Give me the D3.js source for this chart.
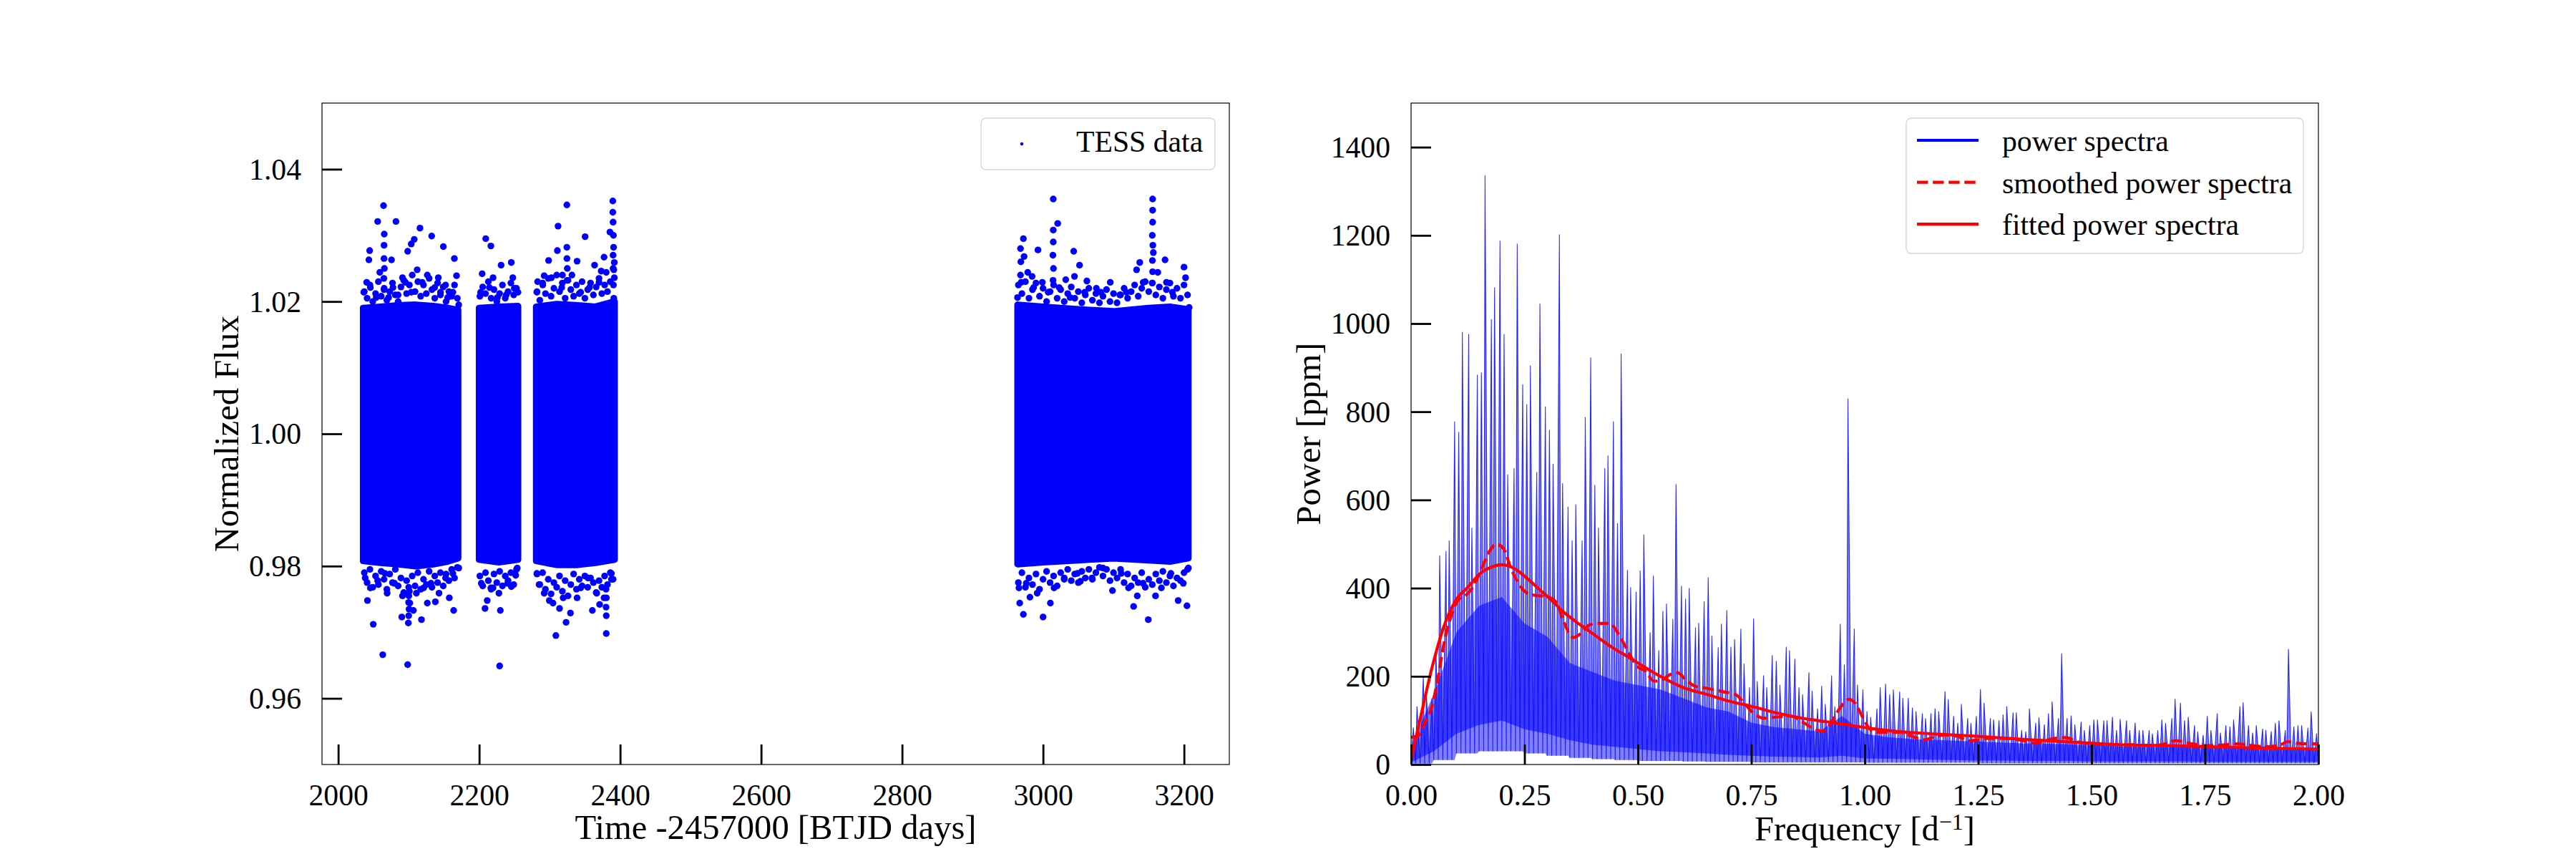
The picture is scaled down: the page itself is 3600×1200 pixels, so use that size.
<!DOCTYPE html>
<html><head><meta charset="utf-8">
<script src="https://cdn.jsdelivr.net/npm/d3@7"></script>
<style>
body{margin:0;background:#fff}
svg{display:block}
text{font-family:"Liberation Serif","Times New Roman",serif;fill:#000}
</style>
</head><body>
<svg id="c" width="3600" height="1200"></svg>
<script>
// ---------------- DATA ----------------
// Light curve axes
const timeDomain = [1977, 3264.3];
const fluxDomain = [0.95, 1.05];
const timeTicks = [2000, 2200, 2400, 2600, 2800, 3000, 3200];
const fluxTicks = [0.96, 0.98, 1.00, 1.02, 1.04];

// dense core of each observing segment: [time, upper flux, lower flux]
const coreA = [[2035.5,1.0190,0.9808],[2060,1.0192,0.9805],[2085,1.0194,0.9803],[2110,1.0195,0.9800],[2135,1.0193,0.9803],[2155,1.0190,0.9807],[2170,1.0187,0.9812]];
const coreB = [[2200,1.0190,0.9810],[2228,1.0192,0.9806],[2255,1.0193,0.9810]];
const coreC = [[2281,1.0192,0.9808],[2310,1.0196,0.9802],[2340,1.0194,0.9802],[2365,1.0192,0.9805],[2392,1.0200,0.9810]];
const coreD = [[2964,1.0195,0.9803],[3000,1.0192,0.9806],[3050,1.0188,0.9809],[3100,1.0185,0.9812],[3150,1.0190,0.9809],[3180,1.0192,0.9807],[3206,1.0188,0.9812]];

// ragged edge points just outside the dense core: [time, flux]
const edgeA = [[2037,1.0215],[2041,1.0205],[2045,1.0225],[2049,1.0200],[2053,1.0212],[2057,1.0230],[2061,1.0208],[2065,1.0218],[2069,1.0202],[2073,1.0215],[2077,1.0228],[2081,1.0210],[2085,1.0200],[2089,1.0222],[2093,1.0232],[2097,1.0212],[2101,1.0225],[2105,1.0240],[2109,1.0215],[2113,1.0230],[2117,1.0208],[2121,1.0225],[2125,1.0212],[2129,1.0235],[2133,1.0218],[2137,1.0205],[2141,1.0228],[2145,1.0210],[2149,1.0222],[2153,1.0200],[2157,1.0215],[2161,1.0208],[2165,1.0225],[2169,1.0205],
 [2037,0.9790],[2041,0.9775],[2045,0.9795],[2049,0.9768],[2053,0.9785],[2057,0.9772],[2061,0.9792],[2065,0.9780],[2069,0.9765],[2073,0.9788],[2077,0.9775],[2081,0.9795],[2085,0.9770],[2089,0.9782],[2093,0.9760],[2097,0.9778],[2101,0.9762],[2105,0.9785],[2109,0.9770],[2113,0.9790],[2117,0.9765],[2121,0.9780],[2125,0.9772],[2129,0.9792],[2133,0.9768],[2137,0.9785],[2141,0.9775],[2145,0.9790],[2149,0.9770],[2153,0.9788],[2157,0.9778],[2161,0.9795],[2165,0.9782],[2169,0.9798]];
const edgeB = [[2201,1.0208],[2205,1.0222],[2209,1.0212],[2213,1.0230],[2217,1.0205],[2221,1.0218],[2225,1.0200],[2229,1.0212],[2233,1.0225],[2237,1.0205],[2241,1.0215],[2245,1.0228],[2249,1.0210],[2253,1.0220],
 [2201,0.9785],[2205,0.9770],[2209,0.9790],[2213,0.9778],[2217,0.9765],[2221,0.9788],[2225,0.9775],[2229,0.9792],[2233,0.9770],[2237,0.9785],[2241,0.9778],[2245,0.9790],[2249,0.9772],[2253,0.9795]];
const edgeC = [[2282,1.0215],[2286,1.0202],[2290,1.0228],[2294,1.0212],[2298,1.0235],[2302,1.0208],[2306,1.0220],[2310,1.0240],[2314,1.0215],[2318,1.0228],[2322,1.0205],[2326,1.0232],[2330,1.0218],[2334,1.0208],[2338,1.0225],[2342,1.0212],[2346,1.0230],[2350,1.0205],[2354,1.0218],[2358,1.0228],[2362,1.0210],[2366,1.0222],[2370,1.0235],[2374,1.0212],[2378,1.0225],[2382,1.0215],[2386,1.0230],[2390,1.0250],
 [2282,0.9788],[2286,0.9772],[2290,0.9790],[2294,0.9765],[2298,0.9780],[2302,0.9758],[2306,0.9775],[2310,0.9768],[2314,0.9785],[2318,0.9762],[2322,0.9778],[2326,0.9755],[2330,0.9772],[2334,0.9788],[2338,0.9765],[2342,0.9780],[2346,0.9770],[2350,0.9785],[2354,0.9768],[2358,0.9782],[2362,0.9775],[2366,0.9760],[2370,0.9778],[2374,0.9768],[2378,0.9785],[2382,0.9772],[2386,0.9790],[2390,0.9780]];
const edgeD = [[2965,1.0225],[2970,1.0212],[2975,1.0230],[2980,1.0205],[2985,1.0218],[2990,1.0228],[2995,1.0208],[3000,1.0220],[3005,1.0200],[3010,1.0215],[3015,1.0225],[3020,1.0205],[3025,1.0218],[3030,1.0200],[3035,1.0212],[3040,1.0222],[3045,1.0205],[3050,1.0215],[3055,1.0198],[3060,1.0210],[3065,1.0220],[3070,1.0202],[3075,1.0212],[3080,1.0198],[3085,1.0208],[3090,1.0218],[3095,1.0200],[3100,1.0212],[3105,1.0198],[3110,1.0210],[3115,1.0220],[3120,1.0205],[3125,1.0215],[3130,1.0225],[3135,1.0208],[3140,1.0220],[3145,1.0230],[3150,1.0215],[3155,1.0228],[3160,1.0210],[3165,1.0222],[3170,1.0205],[3175,1.0218],[3180,1.0228],[3185,1.0208],[3190,1.0220],[3195,1.0205],[3200,1.0225],[3205,1.0210],
 [2965,0.9775],[2970,0.9790],[2975,0.9768],[2980,0.9782],[2985,0.9772],[2990,0.9788],[2995,0.9765],[3000,0.9780],[3005,0.9792],[3010,0.9775],[3015,0.9785],[3020,0.9770],[3025,0.9790],[3030,0.9780],[3035,0.9795],[3040,0.9778],[3045,0.9788],[3050,0.9775],[3055,0.9792],[3060,0.9782],[3065,0.9795],[3070,0.9780],[3075,0.9790],[3080,0.9798],[3085,0.9785],[3090,0.9795],[3095,0.9778],[3100,0.9790],[3105,0.9782],[3110,0.9795],[3115,0.9775],[3120,0.9788],[3125,0.9770],[3130,0.9782],[3135,0.9775],[3140,0.9790],[3145,0.9768],[3150,0.9780],[3155,0.9772],[3160,0.9788],[3165,0.9778],[3170,0.9792],[3175,0.9775],[3180,0.9785],[3185,0.9770],[3190,0.9782],[3195,0.9778],[3200,0.9790],[3205,0.9795]];

// individual outlying points: [time, flux]
const outA = [[2064.3,1.0345],[2056,1.0321],[2081.9,1.0321],[2065.3,1.0302],[2116,1.0311],[2132.6,1.0299],[2107.8,1.0294],[2103.6,1.0287],[2149.2,1.0283],[2044.6,1.0277],[2098.5,1.0276],[2164.8,1.0265],[2043.5,1.0263],[2075.6,1.0263],[2059,1.0244],[2091.2,1.0236],[2142,1.0236],[2167.9,1.0239],[2040.4,1.0229],[2152.3,1.0225],[2162.7,1.0214],
 [2036.3,1.0214],[2045.6,1.0221],[2053.9,1.0206],[2071.5,1.0206],[2077.7,1.0221],[2085,1.021],[2095.3,1.0229],[2103.6,1.0214],[2112,1.0248],[2119.2,1.0229],[2126.4,1.024],[2136.8,1.0221],[2145.1,1.0214],[2155.4,1.0206],[2171,1.0195],
 [2065,1.0285],[2065,1.0265],[2065.5,1.0250],[2064.8,1.0235],[2065.2,1.022],
 [2049.7,0.9712],[2063.2,0.9666],[2098.5,0.9651],[2090.2,0.9723],[2099.5,0.9714],[2118.1,0.9719],[2106.7,0.9733],[2041.5,0.9748],[2137.8,0.9746],[2163.8,0.9733],[2157.6,0.9752],[2069.4,0.9759],[2126.4,0.9744],
 [2038.3,0.9782],[2045.6,0.9767],[2056,0.9778],[2066.3,0.9789],[2079.8,0.9774],[2091.2,0.9755],[2101.6,0.9744],[2110.9,0.9759],[2121.2,0.9767],[2131.6,0.9774],[2143,0.9759],[2152.3,0.9782],[2162.7,0.9789],[2171,0.9797],
 [2100,0.9725],[2100.5,0.9735],[2099.8,0.9745],[2100.2,0.9755],[2100,0.9768]];
const outB = [[2209.3,1.0295],[2216.6,1.0284],[2231.1,1.0255],[2245.6,1.0259],[2204.2,1.0242],[2249.8,1.022],[2219.7,1.0236],
 [2202,1.0214],[2214.5,1.0221],[2225.9,1.0206],[2238.4,1.021],[2247.7,1.0236],[2255,1.0214],
 [2229,0.9649],[2211.4,0.9748],[2208.3,0.9736],[2230,0.9733],[2245.6,0.9769],[2251.8,0.9786],[2219.7,0.9767],
 [2203,0.9774],[2216.6,0.9767],[2228,0.9759],[2240.4,0.9774],[2250.8,0.9789],[2254,0.9797]];
const outC = [[2324.4,1.0346],[2389.6,1.0352],[2389.6,1.0335],[2311.9,1.0314],[2350.3,1.0298],[2324.4,1.0282],[2310.9,1.0277],[2298.5,1.0262],[2338.9,1.0261],[2377.2,1.0267],[2373.1,1.0246],[2363.7,1.0255],[2282.9,1.023],[2292.2,1.0239],[2318.1,1.024],[2385.5,1.0305],
 [2281.9,1.0214],[2290.2,1.0225],[2302.6,1.0236],[2317.1,1.0221],[2331.6,1.024],[2344,1.0214],[2356.5,1.0221],[2370,1.0229],[2380.3,1.0244],[2390.7,1.0282],[2391.7,1.0259],[2391.7,1.0236],
 [2390,1.0320],[2390.5,1.0300],[2390,1.0270],[2391,1.0248],[2390.5,1.0225],[2391,1.0205],[2324.5,1.0265],[2325,1.025],[2324.8,1.0232],
 [2308.8,0.9695],[2380.3,0.9698],[2323.3,0.9715],[2299.5,0.9748],[2314,0.9736],[2338.9,0.9752],[2360.6,0.9733],[2380.3,0.9725],[2370.9,0.9742],[2285,0.9772],[2387.6,0.978],
 [2281.9,0.9789],[2292.2,0.9759],[2304.7,0.9744],[2319.2,0.9752],[2329.5,0.9729],[2344,0.9767],[2354.4,0.9782],[2366.8,0.9759],[2377.2,0.9752],[2387.6,0.9789],
 [2380,0.9738],[2380.5,0.9752],[2380,0.9765]];
const outD = [[3014.5,1.0355],[3155.5,1.0355],[3020.8,1.0318],[3014.5,1.0308],[3155.5,1.032],[2972.1,1.0295],[2992.8,1.0278],[3043.5,1.0276],[2973.1,1.0268],[3156.5,1.0274],[3173.1,1.0263],[3137.2,1.0259],[3051.8,1.0255],[3132.7,1.0248],[3200,1.0252],[2984.5,1.0238],[3044.6,1.0238],[3032.2,1.0233],[3062.2,1.0231],[3075.7,1.022],[3118.2,1.0214],[3175.1,1.0229],[2999,1.0229],
 [2963.8,1.0206],[2969,1.0229],[2978.3,1.0244],[2986.6,1.0221],[3007.3,1.0214],[3022.9,1.0221],[3038.4,1.0206],[3059.1,1.0214],[3081.9,1.0214],[3095.4,1.0229],[3108.9,1.021],[3142.1,1.0229],[3162.8,1.0244],[3183.5,1.0214],[3202.2,1.0236],[3207.3,1.0191],
 [3155.5,1.0338],[3155,1.0300],[3155.8,1.0285],[3155.2,1.0262],[3155.5,1.0245],[3155,1.0228],[3014.5,1.0290],[3014,1.0270],[3014.8,1.0250],[3014.2,1.0232],[2968,1.0280],[2968.5,1.026],[2968,1.024],
 [3000,0.9723],[3149.3,0.9719],[2972.1,0.9727],[2966.9,0.9744],[2981.4,0.9753],[3010.4,0.9744],[3128.5,0.9739],[3159.6,0.9755],[3191.7,0.9748],[3204.2,0.974],[3098.5,0.9763],[3052.9,0.9777],[3133.7,0.9755],
 [2965.8,0.9767],[2976.2,0.9774],[2991.7,0.9759],[3015.6,0.9767],[3030.1,0.9782],[3048.8,0.9789],[3069.5,0.9782],[3085,0.9797],[3111,0.9789],[3121.3,0.9767],[3142.1,0.9774],[3167.9,0.9767],[3181.4,0.9789],[3199,0.9774],[3206.2,0.9797]];

// Power spectrum axes
const freqDomain = [0, 2];
const powerDomain = [0, 1500];
const freqTicks = [0, 0.25, 0.5, 0.75, 1.0, 1.25, 1.5, 1.75, 2.0];
const powerTicks = [0, 200, 400, 600, 800, 1000, 1200, 1400];

// highest spike (ppm) in each 0.01 d^-1 frequency bin, from 0.00 to 2.00
const specBinWidth = 0.01;
const specPeak = [
 84,132,200,160,150,257,474,484,508,778, 754,981,976,537,884,889,1336,1010,1082,1188,
 976,658,672,1181,862,817,905,663,1045,812, 759,682,1202,638,585,508,590,508,788,923,
 634,537,672,701,778,547,932,441,402,392, 440,522,300,428,259,348,365,330,636,405,
 376,400,311,321,370,424,292,266,319,350, 267,284,308,229,175,331,189,202,175,248,
 235,181,267,259,240,175,159,209,167,127, 178,137,202,132,319,227,830,308,181,170,
 121,108,127,175,183,159,170,165,151,151, 129,121,116,105,116,127,121,166,148,110,
 94,137,105,94,110,171,140,105,102,100, 113,132,118,118,78,75,127,94,107,91,
 116,143,105,252,105,111,91,97,78,89, 102,102,100,100,108,78,103,100,78,95,
 78,78,78,70,78,102,94,105,149,140, 100,108,89,75,67,110,78,116,72,89,
 86,102,132,141,89,72,89,81,78,75, 94,100,78,262,86,89,89,83,120,70];

// every 0.05 d^-1: top and bottom of the dense band, and lowest dips of the spectrum (ppm)
const coreFreq = [0,0.05,0.10,0.15,0.20,0.25,0.30,0.35,0.40,0.45,0.50,0.55,0.60,0.65,0.70,0.75,0.80,0.85,0.90,0.95,1.00,1.05,1.10,1.15,1.20,1.25,1.30,1.35,1.40,1.45,1.50,1.55,1.60,1.65,1.70,1.75,1.80,1.85,1.90,1.95,2.00];
const coreTop = [40,160,300,360,380,320,290,230,210,190,180,170,150,130,120,95,85,80,75,110,70,62,58,56,54,52,50,48,47,46,44,42,40,40,40,38,38,37,36,36,35];
const coreBottom = [5,30,70,90,100,80,70,55,45,40,35,30,28,25,22,20,18,17,16,20,14,13,12,11,10,9,9,8,8,8,7,7,7,7,7,6,6,6,6,6,6];
const specDip = [2,10,25,30,30,25,20,15,12,10,8,8,7,6,6,5,5,5,5,5,4,4,4,4,4,3,3,3,3,3,3,3,3,3,3,3,3,3,3,3,3];

// smoothed power spectrum
const smoothFreq = [0,0.015,0.03,0.046,0.06,0.073,0.088,0.104,0.12,0.136,0.152,0.173,0.188,0.204,0.22,0.236,0.257,0.278,0.299,0.32,0.336,0.357,0.373,0.394,0.415,0.438,0.457,0.478,0.499,0.515,0.536,0.552,0.573,0.588,0.604,0.625,0.652,0.688,0.715,0.736,0.752,0.778,0.81,0.836,0.862,0.888,0.909,0.925,0.946,0.965,0.978,0.994,1.009,1.025,1.052,1.078,1.104,1.131,1.157,1.178,1.204,1.23,1.252,1.27,1.312,1.349,1.375,1.417,1.443,1.47,1.496,1.538,1.585,1.622,1.654,1.686,1.717,1.749,1.785,1.822,1.854,1.885,1.917,1.932,1.953,1.98,2.0];
const smoothPower = [62,65,94,132,200,277,335,373,383,402,436,484,500,489,445,412,388,383,381,368,325,288,296,317,320,320,296,257,222,213,189,192,205,208,194,178,173,165,159,137,119,105,108,110,97,81,75,94,129,148,140,110,83,73,73,73,64,56,64,67,64,54,56,59,59,54,48,59,61,51,47,45,45,43,45,54,48,43,44,47,43,40,45,52,48,47,47];

// fitted power spectrum
const fitFreq = [0,0.02,0.046,0.073,0.099,0.125,0.152,0.178,0.2,0.23,0.257,0.283,0.309,0.336,0.362,0.388,0.415,0.441,0.467,0.499,0.546,0.599,0.652,0.704,0.75,0.81,0.862,0.915,0.967,1.02,1.073,1.125,1.178,1.25,1.349,1.454,1.559,1.664,1.769,1.875,2.0];
const fitPower = [12,103,219,315,373,402,433,448,453,443,421,397,373,346,325,306,286,267,251,231,202,175,159,143,132,116,105,97,89,81,75,71,68,64,57,51,45,43,40,37,35];

// ---------------- DRAWING ----------------
const svg = d3.select('#c');
const BLUE = '#0000ff', RED = '#ff0000';
const TICKFS = 41.7, LABFS = 48.6;
const L = {x0:450, x1:1718, y0:144, y1:1068};
const R = {x0:1972, x1:3240, y0:144, y1:1068};

const xT = d3.scaleLinear().domain(timeDomain).range([L.x0, L.x1]);
const yF = d3.scaleLinear().domain(fluxDomain).range([L.y1, L.y0]);
const xQ = d3.scaleLinear().domain(freqDomain).range([R.x0, R.x1]);
const yP = d3.scaleLinear().domain(powerDomain).range([R.y1, R.y0]);

const defs = svg.append('defs');
[['clipL', L], ['clipR', R]].forEach(([id, b]) => {
  defs.append('clipPath').attr('id', id).append('rect')
    .attr('x', b.x0).attr('y', b.y0).attr('width', b.x1 - b.x0).attr('height', b.y1 - b.y0);
});

// ---- Light curve ----
const gL = svg.append('g').attr('clip-path', 'url(#clipL)');
const area = d3.area().x(d => xT(d[0])).y0(d => yF(d[2])).y1(d => yF(d[1]));
[coreA, coreB, coreC, coreD].forEach(seg => {
  gL.append('path').attr('d', area(seg))
    .attr('fill', BLUE).attr('stroke', BLUE).attr('stroke-width', 9.4)
    .attr('stroke-linejoin', 'round');
});
[edgeA, edgeB, edgeC, edgeD, outA, outB, outC, outD].forEach(pts => {
  gL.selectAll(null).data(pts).enter().append('circle')
    .attr('cx', d => xT(d[0])).attr('cy', d => yF(d[1])).attr('r', 4.7).attr('fill', BLUE);
});

// ---- Power spectrum ----
const gR = svg.append('g').attr('clip-path', 'url(#clipR)');
const bandArea = d3.area().x((d, i) => xQ(coreFreq[i])).y0((d, i) => yP(coreBottom[i])).y1((d, i) => yP(coreTop[i]));
gR.append('path').attr('d', bandArea(coreFreq)).attr('fill', '#3333ff').attr('fill-opacity', 0.7);

// each bin drawn as a spike: dip -> peak -> dip (apex placement varies to avoid a regular comb)
const apexPlace = [0.5, 0.3, 0.7, 0.4, 0.6];
const zig = [];
specPeak.forEach((p, i) => {
  const dip = specDip[Math.floor(i / 5)];
  zig.push([i * specBinWidth, dip, dip]);
  zig.push([(i + apexPlace[i % 5]) * specBinWidth, p, dip]);
});
const lastDip = specDip[specDip.length - 1];
zig.push([specPeak.length * specBinWidth, lastDip, lastDip]);
gR.append('path')
  .attr('d', d3.area().x(d => xQ(d[0])).y0(d => yP(d[2])).y1(d => yP(d[1]))(zig))
  .attr('fill', BLUE).attr('fill-opacity', 0.5);
gR.append('path').attr('d', d3.line().x(d => xQ(d[0])).y(d => yP(d[1]))(zig))
  .attr('fill', 'none').attr('stroke', BLUE).attr('stroke-opacity', 0.8).attr('stroke-width', 1.1);

const lineQ = d3.line().x(d => xQ(d[0])).y(d => yP(d[1])).curve(d3.curveMonotoneX);
gR.append('path').attr('d', lineQ(smoothFreq.map((f, i) => [f, smoothPower[i]])))
  .attr('fill', 'none').attr('stroke', RED).attr('stroke-width', 4.17)
  .attr('stroke-dasharray', '15.4,6.7');
gR.append('path').attr('d', lineQ(fitFreq.map((f, i) => [f, fitPower[i]])))
  .attr('fill', 'none').attr('stroke', RED).attr('stroke-width', 4.17);

// ---- Axes ----
function drawAxes(b, xs, ys, xt, yt, xf, yf) {
  const gx = svg.append('g').attr('transform', `translate(0,${b.y1})`)
    .call(d3.axisBottom(xs).tickValues(xt).tickFormat(xf).tickSizeInner(-28).tickSizeOuter(0).tickPadding(27.4));
  const gy = svg.append('g').attr('transform', `translate(${b.x0},0)`)
    .call(d3.axisLeft(ys).tickValues(yt).tickFormat(yf).tickSizeInner(-28).tickSizeOuter(0).tickPadding(29));
  [gx, gy].forEach(g => {
    g.select('.domain').remove();
    g.selectAll('.tick line').attr('stroke', '#000').attr('stroke-width', 2.8);
    g.selectAll('.tick text').attr('font-size', TICKFS)
      .attr('font-family', '"Liberation Serif","Times New Roman",serif').attr('fill', '#000');
  });
  gy.selectAll('.tick text').attr('dy', '0.335em');
  svg.append('rect').attr('x', b.x0).attr('y', b.y0).attr('width', b.x1 - b.x0).attr('height', b.y1 - b.y0)
    .attr('fill', 'none').attr('stroke', '#000').attr('stroke-width', 1.2);
}
drawAxes(L, xT, yF, timeTicks, fluxTicks, d3.format('d'), d3.format('.2f'));
drawAxes(R, xQ, yP, freqTicks, powerTicks, d3.format('.2f'), d3.format('d'));

// ---- Labels ----
svg.append('text').attr('x', (L.x0 + L.x1) / 2).attr('y', 1172).attr('text-anchor', 'middle')
  .attr('font-size', LABFS).text('Time -2457000 [BTJD days]');
svg.append('text').attr('transform', `translate(333,${(L.y0 + L.y1) / 2}) rotate(-90)`).attr('text-anchor', 'middle')
  .attr('font-size', LABFS).text('Normalized Flux');
const fl = svg.append('text').attr('x', (R.x0 + R.x1) / 2).attr('y', 1174).attr('text-anchor', 'middle')
  .attr('font-size', LABFS);
fl.append('tspan').text('Frequency [d');
fl.append('tspan').attr('font-size', 32).attr('dy', -15).text('\u22121');
fl.append('tspan').attr('dy', 15).text(']');
svg.append('text').attr('transform', `translate(1845,${(R.y0 + R.y1) / 2}) rotate(-90)`).attr('text-anchor', 'middle')
  .attr('font-size', LABFS).text('Power [ppm]');

// ---- Legends ----
const lg1 = svg.append('g');
lg1.append('rect').attr('x', 1371).attr('y', 165).attr('width', 327).attr('height', 72).attr('rx', 7)
  .attr('fill', '#fff').attr('fill-opacity', 0.8).attr('stroke', '#d6d6d6').attr('stroke-width', 1.4);
lg1.append('circle').attr('cx', 1428).attr('cy', 201).attr('r', 2.3).attr('fill', BLUE);
lg1.append('text').attr('x', 1504).attr('y', 212).attr('font-size', TICKFS).text('TESS data');

const legendItems = ['power spectra', 'smoothed power spectra', 'fitted power spectra'];
const lg2 = svg.append('g');
lg2.append('rect').attr('x', 2664).attr('y', 165).attr('width', 555).attr('height', 189).attr('rx', 7)
  .attr('fill', '#fff').attr('fill-opacity', 0.8).attr('stroke', '#d6d6d6').attr('stroke-width', 1.4);
legendItems.forEach((t, i) => {
  const y = 196 + i * 58.6;
  const ln = lg2.append('line').attr('x1', 2679).attr('x2', 2765).attr('y1', y).attr('y2', y)
    .attr('stroke', i === 0 ? BLUE : RED).attr('stroke-width', 4.17);
  if (i === 1) ln.attr('stroke-dasharray', '15.4,6.7');
  lg2.append('text').attr('x', 2798).attr('y', y + 15).attr('font-size', TICKFS).text(t);
});
</script>
</body></html>
